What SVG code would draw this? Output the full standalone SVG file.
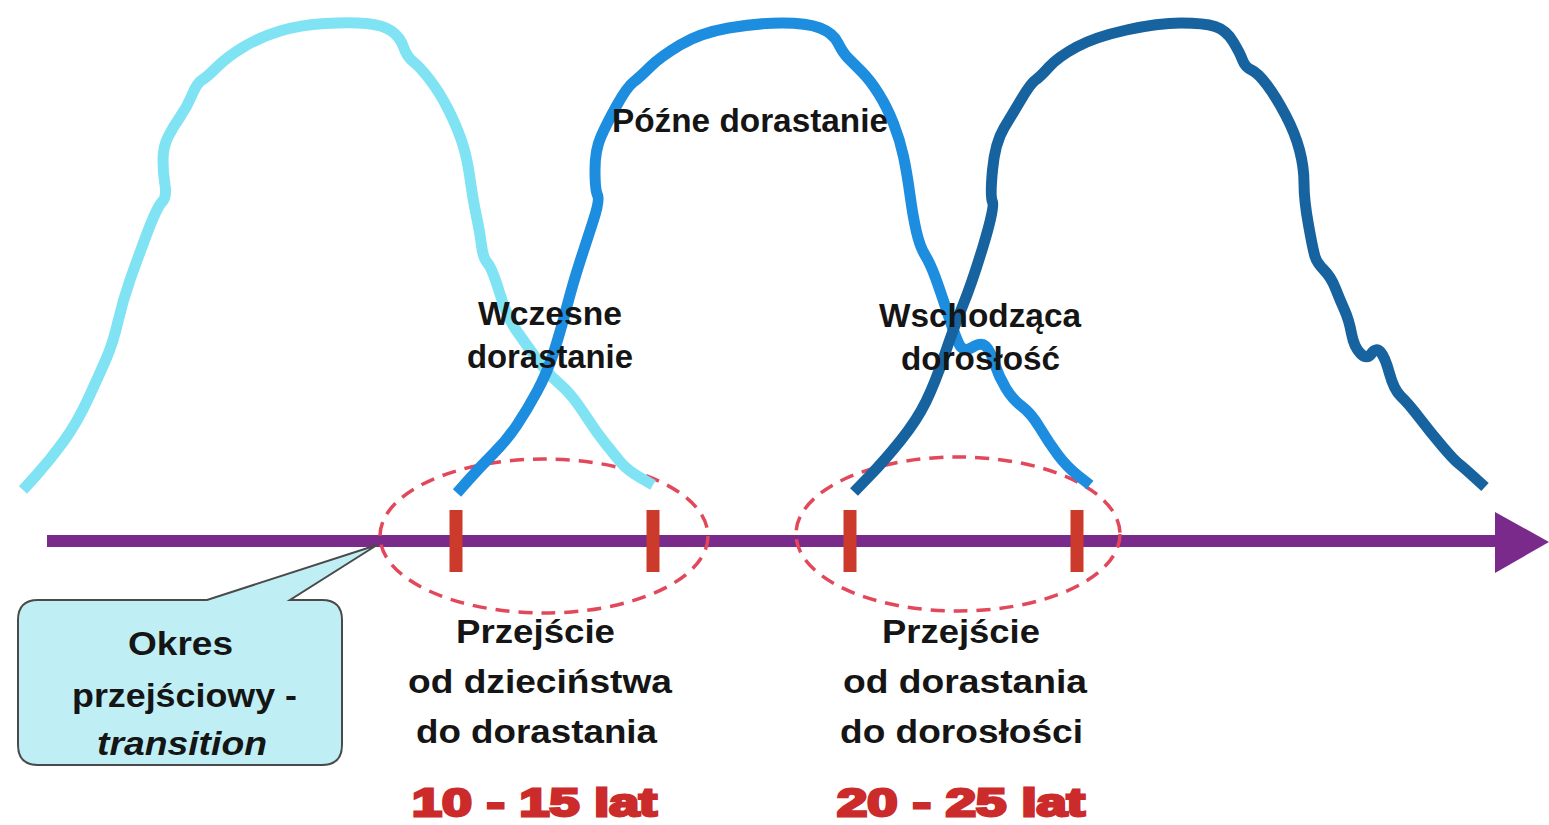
<svg xmlns="http://www.w3.org/2000/svg" width="1549" height="825" viewBox="0 0 1549 825">
  <style>
    .curve { fill: none; stroke-width: 11; stroke-linejoin: round; stroke-linecap: butt; }
    .c1 { stroke: #7fe3f3; }
    .c2 { stroke: #1d8de0; }
    .c3 { stroke: #17639f; }
    .lbl { font-family: "Liberation Sans", Arial, sans-serif; font-weight: bold; font-size: 34px; fill: #151515; }
    .age { font-family: "Liberation Sans", Arial, sans-serif; font-weight: bold; font-size: 38px; fill: #cc2b2b; stroke: #cc2b2b; stroke-width: 2.8; }
    .zone { fill: none; stroke: #e2475a; stroke-width: 3.5; stroke-dasharray: 14 9; }
    .tick { stroke: #cb3a2a; stroke-width: 13; }
  </style>

  <rect width="1549" height="825" fill="#ffffff"/>

  <!-- time axis -->
  <g id="connectors">
    <line x1="47" y1="541" x2="1500" y2="541" stroke="#7a2a8b" stroke-width="12"/>
    <polygon points="1495,512 1549,542 1495,573" fill="#7a2a8b"/>
  </g>

  <!-- transition zones -->
  <g id="zone-early">
    <ellipse class="zone" cx="544" cy="536" rx="164" ry="77"/>
  </g>
  <g id="zone-late">
    <ellipse class="zone" cx="958" cy="534" rx="162" ry="77"/>
  </g>

  <!-- development phase curves -->
  <g id="curve-childhood">
    <path class="curve c1" d="M23,490 L36.5,475 Q50,460 63.5,441.5 Q77,423 88.5,398 Q100,373 106.5,358 Q113,343 118,321.5 Q123,300 130,280 Q137,260 147,233.5 Q157,207 162,202 Q167,197 165,185 Q163,173 163,160 Q163,147 168,137 Q173,127 180,117 Q187,107 192,95 Q197,83 202,80 Q207,77 217,67 Q227,57 243.5,47 Q260,37 280,31 Q300,25 325,23.5 Q350,22 366.5,23.5 Q383,25 391.5,31 Q400,37 403.5,47 Q407,57 413.5,62 Q420,67 430,80 Q440,93 448.5,110 Q457,127 462,142 Q467,157 470,178.5 Q473,200 476.5,216.5 Q480,233 481.5,245.5 Q483,258 487.5,263 Q492,268 499.5,292.5 Q507,317 515,328.5 Q523,340 535,356.5 Q547,373 557,381.5 Q567,390 573.5,398.5 Q580,407 588.5,420 Q597,433 605,443 Q613,453 620,461.5 Q627,470 640,477.5 L653,485"/>
  </g>
  <g id="curve-adolescence">
    <path class="curve c2" d="M457,493 L468.5,480 Q480,467 493.5,453.5 Q507,440 517,425 Q527,410 537,391.5 Q547,373 553.5,353 Q560,333 566.5,308 Q573,283 580,261.5 Q587,240 593.5,220 Q600,200 597.5,195 Q595,190 595,170 Q595,150 601,136.5 Q607,123 617,105 Q627,87 633.5,82 Q640,77 650,67 Q660,57 680,45 Q700,33 728.5,28 Q757,23 782,23 Q807,23 820,28 Q833,33 838,43 Q843,53 848,58 Q853,63 861.5,71.5 Q870,80 878.5,93.5 Q887,107 893.5,123.5 Q900,140 903.5,156.5 Q907,173 910,195 Q913,217 916.5,232 Q920,247 925,255 Q930,263 935,276.5 Q940,290 947,311.5 Q954,333 958.5,343 Q963,353 972,347.5 Q981,342 985.5,346 Q990,350 994.5,363.5 Q999,377 1006,388.5 Q1013,400 1022,406.5 Q1031,413 1040,428 Q1049,443 1058,455 Q1067,467 1078.5,476 L1090,485"/>
  </g>
  <g id="curve-adulthood">
    <path class="curve c3" d="M854,492 L869.5,476 Q885,460 901,440 Q917,420 926,401.5 Q935,383 944.5,355 Q954,327 963,305 Q972,283 983.5,245 Q995,207 992.5,202 Q990,197 992.5,170 Q995,143 1004,128 Q1013,113 1022,98 Q1031,83 1035.5,80 Q1040,77 1049,67 Q1058,57 1076.5,47 Q1095,37 1126.5,30 Q1158,23 1181,23 Q1204,23 1215,26.5 Q1226,30 1233,41.5 Q1240,53 1242.5,60 Q1245,67 1251.5,70 Q1258,73 1267,85 Q1276,97 1285.5,115 Q1295,133 1299.5,150 Q1304,167 1304,183.5 Q1304,200 1308.5,225 Q1313,250 1315,256.5 Q1317,263 1324,270 Q1331,277 1335.5,288.5 Q1340,300 1344.5,310 Q1349,320 1351.5,333.5 Q1354,347 1360.5,353.5 Q1367,360 1371.5,353.5 Q1376,347 1380.5,352 Q1385,357 1389.5,373.5 Q1394,390 1401,396.5 Q1408,403 1419.5,418 Q1431,433 1442.5,446.5 Q1454,460 1458.5,463.5 Q1463,467 1474,477 L1485,487"/>
  </g>

  <!-- age markers on the axis -->
  <g id="ticks">
    <line class="tick" x1="456" y1="510" x2="456" y2="572"/>
    <line class="tick" x1="653" y1="510" x2="653" y2="572"/>
    <line class="tick" x1="850" y1="510" x2="850" y2="572"/>
    <line class="tick" x1="1077" y1="510" x2="1077" y2="572"/>
  </g>

  <!-- phase names -->
  <g id="label-late">
    <text class="lbl" x="612" y="132" textLength="276" lengthAdjust="spacingAndGlyphs">Późne dorastanie</text>
  </g>
  <g id="label-early">
    <text class="lbl" x="478" y="325" textLength="144" lengthAdjust="spacingAndGlyphs">Wczesne</text>
    <text class="lbl" x="467" y="368" textLength="166" lengthAdjust="spacingAndGlyphs">dorastanie</text>
  </g>
  <g id="label-emerging">
    <text class="lbl" x="879" y="327" textLength="202" lengthAdjust="spacingAndGlyphs">Wschodząca</text>
    <text class="lbl" x="901" y="370" textLength="159" lengthAdjust="spacingAndGlyphs">dorosłość</text>
  </g>

  <!-- callout -->
  <g id="callout">
    <path d="M38,600 L207,600 L377,545 L290,600 L322,600 Q342,600 342,620 L342,745 Q342,765 322,765 L38,765 Q18,765 18,745 L18,620 Q18,600 38,600 Z" fill="#bfeff5" stroke="#4a4a4a" stroke-width="2"/>
    <text class="lbl" x="128" y="655" textLength="105" lengthAdjust="spacingAndGlyphs">Okres</text>
    <text class="lbl" x="72" y="707" textLength="225" lengthAdjust="spacingAndGlyphs">przejściowy -</text>
    <text class="lbl" x="97" y="755" font-style="italic" textLength="170" lengthAdjust="spacingAndGlyphs">transition</text>
  </g>

  <!-- transition descriptions -->
  <g id="transition-1">
    <text class="lbl" x="456" y="643" textLength="159" lengthAdjust="spacingAndGlyphs">Przejście</text>
    <text class="lbl" x="408" y="693" textLength="264" lengthAdjust="spacingAndGlyphs">od dzieciństwa</text>
    <text class="lbl" x="416" y="743" textLength="241" lengthAdjust="spacingAndGlyphs">do dorastania</text>
    <text class="age" x="412" y="816" textLength="245" lengthAdjust="spacingAndGlyphs">10 - 15 lat</text>
  </g>
  <g id="transition-2">
    <text class="lbl" x="882" y="643" textLength="158" lengthAdjust="spacingAndGlyphs">Przejście</text>
    <text class="lbl" x="843" y="693" textLength="244" lengthAdjust="spacingAndGlyphs">od dorastania</text>
    <text class="lbl" x="840" y="743" textLength="243" lengthAdjust="spacingAndGlyphs">do dorosłości</text>
    <text class="age" x="837" y="816" textLength="248" lengthAdjust="spacingAndGlyphs">20 - 25 lat</text>
  </g>
</svg>
